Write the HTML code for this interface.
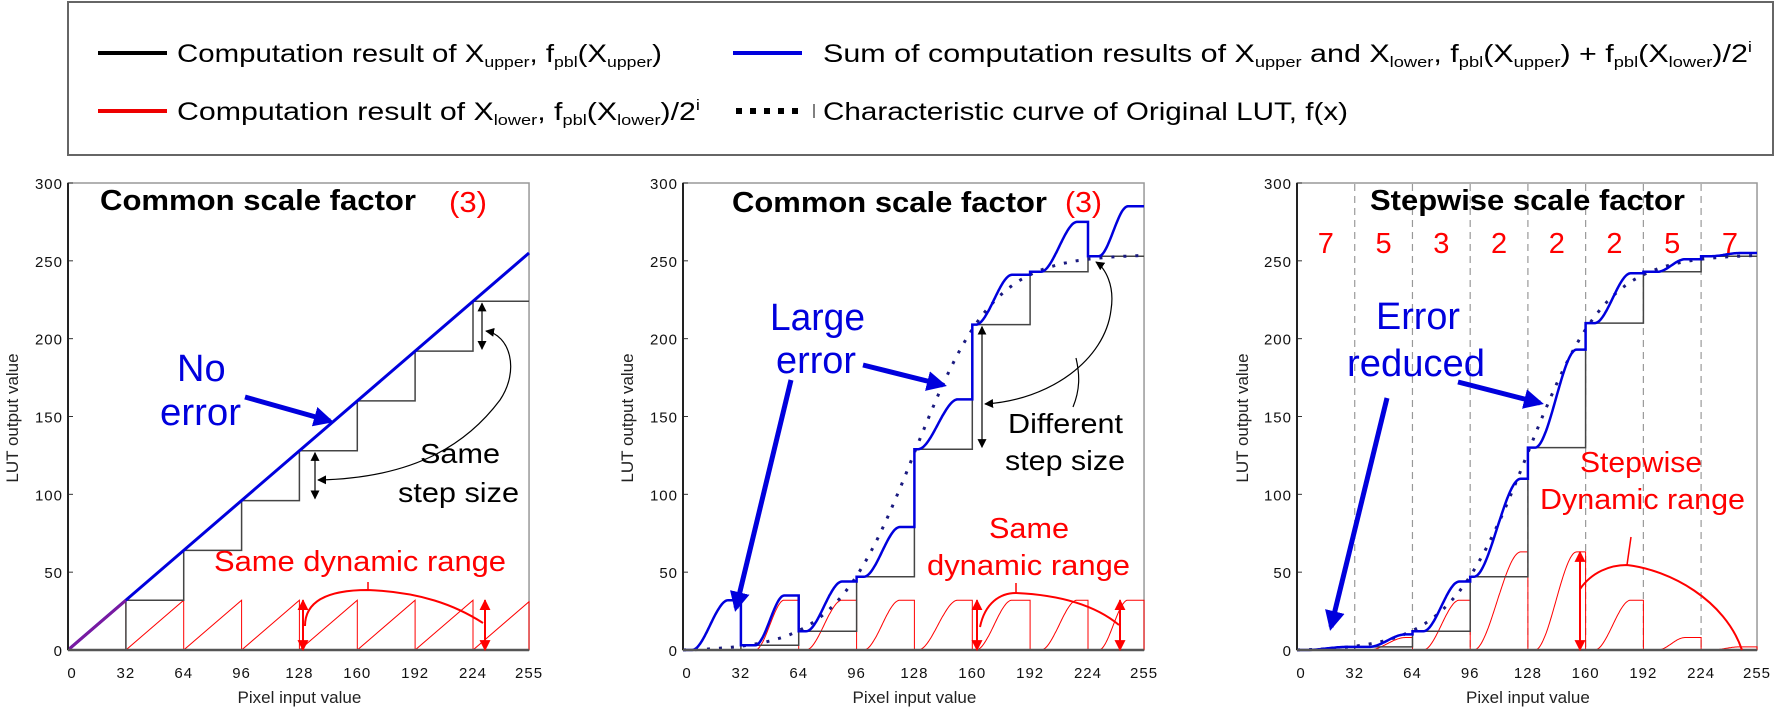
<!DOCTYPE html>
<html><head><meta charset="utf-8">
<style>
html,body{margin:0;padding:0;background:#fff;}
svg{display:block;font-family:"Liberation Sans",Arial,sans-serif;}
.tk{font-size:15px;fill:#111;letter-spacing:1px}
.lab{font-size:17px;fill:#222}
.ti{font-size:29px;font-weight:bold;fill:#000}
.bl{font-size:38px;fill:#0000dd}
.bk{font-size:28px;fill:#000}
.rd{font-size:29px;fill:#f00}
.lg{font-size:25px;fill:#000}
</style></head><body>
<svg id="s" width="1777" height="720" viewBox="0 0 1777 720" xmlns="http://www.w3.org/2000/svg">
<defs>
<marker id="ab" viewBox="0 0 10 10" refX="8" refY="5" markerWidth="4" markerHeight="4" orient="auto"><path d="M0,0 L10,5 L0,10 z" fill="#0000dd"/></marker>
<marker id="ak" viewBox="0 0 10 10" refX="9" refY="5" markerWidth="9" markerHeight="9" markerUnits="userSpaceOnUse" orient="auto-start-reverse"><path d="M0,0 L10,5 L0,10 z" fill="#000"/></marker>
<marker id="ar" viewBox="0 0 10 10" refX="9" refY="5" markerWidth="11" markerHeight="11" markerUnits="userSpaceOnUse" orient="auto-start-reverse"><path d="M0,0 L10,5 L0,10 z" fill="#f00"/></marker>
</defs>
<!-- legend -->
<rect x="68" y="2" width="1705" height="153" fill="#fff" stroke="#666" stroke-width="2"/>
<line x1="98" y1="53" x2="167" y2="53" stroke="#000" stroke-width="4"/>
<text class="lg" x="177" y="62" textLength="485" lengthAdjust="spacingAndGlyphs">Computation result of X<tspan font-size="15" dy="5">upper</tspan><tspan dy="-5">, f</tspan><tspan font-size="15" dy="5">pbl</tspan><tspan dy="-5">(X</tspan><tspan font-size="15" dy="5">upper</tspan><tspan dy="-5">)</tspan></text>
<line x1="98" y1="111" x2="167" y2="111" stroke="#e00" stroke-width="4"/>
<text class="lg" x="177" y="120" textLength="523" lengthAdjust="spacingAndGlyphs">Computation result of X<tspan font-size="15" dy="5">lower</tspan><tspan dy="-5">, f</tspan><tspan font-size="15" dy="5">pbl</tspan><tspan dy="-5">(X</tspan><tspan font-size="15" dy="5">lower</tspan><tspan dy="-5">)/2</tspan><tspan font-size="15" dy="-10">i</tspan></text>
<line x1="733" y1="53" x2="802" y2="53" stroke="#0000dd" stroke-width="4"/>
<text class="lg" x="823" y="62" textLength="929" lengthAdjust="spacingAndGlyphs">Sum of computation results of X<tspan font-size="15" dy="5">upper</tspan><tspan dy="-5"> and X</tspan><tspan font-size="15" dy="5">lower</tspan><tspan dy="-5">, f</tspan><tspan font-size="15" dy="5">pbl</tspan><tspan dy="-5">(X</tspan><tspan font-size="15" dy="5">upper</tspan><tspan dy="-5">) + f</tspan><tspan font-size="15" dy="5">pbl</tspan><tspan dy="-5">(X</tspan><tspan font-size="15" dy="5">lower</tspan><tspan dy="-5">)/2</tspan><tspan font-size="15" dy="-10">i</tspan></text>
<line x1="736" y1="111" x2="802" y2="111" stroke="#000" stroke-width="6" stroke-dasharray="6 8"/>
<line x1="814" y1="104" x2="814" y2="118" stroke="#000" stroke-width="1"/>
<text class="lg" x="823" y="120" textLength="525" lengthAdjust="spacingAndGlyphs">Characteristic curve of Original LUT, f(x)</text>
<g id="g"></g>
</svg>
<script>
const NS="http://www.w3.org/2000/svg",G=document.getElementById('g');
function el(t,a,txt){const e=document.createElementNS(NS,t);for(const k in a)e.setAttribute(k,a[k]);if(txt!==undefined)e.textContent=txt;G.appendChild(e);return e;}
const Y=v=>650-v*1.5567;
function S(t){t=Math.max(0,Math.min(1,t));return t*t*(3-2*t);}
function f(x){return 255/(1+Math.exp(-(x-128)/22))-255/(1+Math.exp(128/22));}
function frame(x0,sx,ylx){
  const X=v=>x0+v*sx;
  el('rect',{x:x0,y:183,width:255*sx,height:467,fill:'none',stroke:'#999','stroke-width':1.5});
  for(let v=0;v<=300;v+=50){el('line',{x1:x0,y1:Y(v),x2:x0+5,y2:Y(v),stroke:'#333'});el('text',{class:'tk',x:x0-5,y:Y(v)+6,'text-anchor':'end'},String(v));}
  [0,32,64,96,128,160,192,224,255].forEach(v=>{el('text',{class:'tk',x:X(v)+(v==0?4:0),y:678,'text-anchor':'middle'},String(v));});
  el('text',{class:'lab',x:x0+128*sx,y:703,'text-anchor':'middle'},'Pixel input value');
  el('text',{class:'lab',x:0,y:0,'text-anchor':'middle',transform:`translate(${ylx},418) rotate(-90)`},'LUT output value');
  return X;
}
function path(pts,X,attrs){let d='';pts.forEach((p,i)=>{d+=(i?'L':'M')+X(p[0]).toFixed(1)+','+Y(p[1]).toFixed(1);});attrs.d=d;attrs.fill='none';return el('path',attrs);}
function axes(x0,sx){el('line',{x1:x0,y1:183,x2:x0,y2:650,stroke:'#222','stroke-width':2});el('line',{x1:x0,y1:650,x2:x0+255*sx,y2:650,stroke:'#555','stroke-width':2.5});}
const segs=[[0,32],[32,64],[64,96],[96,128],[128,160],[160,192],[192,224],[224,255]];
function stepPts(up){const p=[];segs.forEach((s,i)=>{p.push([s[0],up[i]]);p.push([s[1],up[i]]);});return p;}
function lowerPts(rng,rise,up,addUp){const p=[];segs.forEach((s,i)=>{const [a,b]=rise[i];for(let x=s[0];x<=s[1];x+=0.5){p.push([x,(addUp?up[i]:0)+rng[i]*S((x-a)/(b-a))]);}});return p;}
function redSegs(rng,rise,X){segs.forEach((s,i)=>{const [a,b]=rise[i];const p=[];for(let x=s[0];x<=s[1];x+=0.5)p.push([x,rng[i]*S((x-a)/(b-a))]);p.push([s[1],0]);path(p,X,{stroke:'#f00','stroke-width':1});});}
function dotted(X){const p=[];for(let x=0;x<=255;x+=1)p.push([x,f(x)]);path(p,X,{stroke:'#1a1a80','stroke-width':3,'stroke-dasharray':'3 9'});}

/* ---------- left ---------- */
let X=frame(68,1.808,18);
{const p=[];for(let k=0;k<8;k++){const a=32*k,b=Math.min(a+32,255);p.push([a,0],[b,b-a],[b,0]);}path(p,X,{stroke:'#f00','stroke-width':1});}
path(stepPts([0,32,64,96,128,160,192,224]),X,{stroke:'#444','stroke-width':1.5});
path([[0,0],[255,255]],X,{stroke:'#0000dd','stroke-width':3});
path([[0,0],[32,32]],X,{stroke:'#7a1aa0','stroke-width':3});
axes(68,1.808);
el('text',{class:'ti',x:100,y:210,textLength:316,lengthAdjust:'spacingAndGlyphs'},'Common scale factor');
el('text',{class:'rd',x:449,y:212,textLength:38,lengthAdjust:'spacingAndGlyphs'},'(3)');
el('text',{class:'bl',x:177,y:381},'No');
el('text',{class:'bl',x:160,y:425,textLength:81,lengthAdjust:'spacingAndGlyphs'},'error');
el('line',{x1:245,y1:397,x2:330,y2:421,stroke:'#0000dd','stroke-width':5,'marker-end':'url(#ab)'});
el('text',{class:'bk',x:420,y:463,textLength:80,lengthAdjust:'spacingAndGlyphs'},'Same');
el('text',{class:'bk',x:398,y:502,textLength:121,lengthAdjust:'spacingAndGlyphs'},'step size');
el('line',{x1:315,y1:Y(128)+2,x2:315,y2:Y(96)-2,stroke:'#000','stroke-width':1.2,'marker-start':'url(#ak)','marker-end':'url(#ak)'});
el('line',{x1:482,y1:Y(224)+2,x2:482,y2:Y(192)-2,stroke:'#000','stroke-width':1.2,'marker-start':'url(#ak)','marker-end':'url(#ak)'});
el('path',{d:'M318,480 C420,478 470,440 500,400 C520,370 510,335 486,331',fill:'none',stroke:'#000','stroke-width':1.2,'marker-start':'url(#ak)','marker-end':'url(#ak)'});
el('text',{class:'rd',x:214,y:571,textLength:292,lengthAdjust:'spacingAndGlyphs'},'Same dynamic range');
el('line',{x1:303,y1:Y(32),x2:303,y2:Y(0),stroke:'#f00','stroke-width':2,'marker-start':'url(#ar)','marker-end':'url(#ar)'});
el('line',{x1:485,y1:Y(32),x2:485,y2:Y(0),stroke:'#f00','stroke-width':2,'marker-start':'url(#ar)','marker-end':'url(#ar)'});
el('path',{d:'M305,626 C305,600 330,590 368,590 C420,592 455,605 483,623',fill:'none',stroke:'#f00','stroke-width':2});
el('line',{x1:368,y1:590,x2:368,y2:582,stroke:'#f00','stroke-width':1.5});

/* ---------- middle ---------- */
X=frame(683,1.808,633);
const upM=[0,3,12,47,129,209,243,253];
const riseM=[[5,25],[40,56],[68,88],[100,120],[130,152],[162,182],[198,218],[230,246]];
const r32=[32,32,32,32,32,32,32,32];
redSegs(r32,riseM,X);
path(stepPts(upM),X,{stroke:'#444','stroke-width':1.5});
dotted(X);
path(lowerPts(r32,riseM,upM,true),X,{stroke:'#0000dd','stroke-width':2.5});
axes(683,1.808);
el('text',{class:'ti',x:732,y:212,textLength:315,lengthAdjust:'spacingAndGlyphs'},'Common scale factor');
el('text',{class:'rd',x:1065,y:212,textLength:37,lengthAdjust:'spacingAndGlyphs'},'(3)');
el('text',{class:'bl',x:770,y:330,textLength:95,lengthAdjust:'spacingAndGlyphs'},'Large');
el('text',{class:'bl',x:776,y:373,textLength:80,lengthAdjust:'spacingAndGlyphs'},'error');
el('line',{x1:863,y1:365,x2:943,y2:385,stroke:'#0000dd','stroke-width':5,'marker-end':'url(#ab)'});
el('line',{x1:791,y1:380,x2:736,y2:608,stroke:'#0000dd','stroke-width':5,'marker-end':'url(#ab)'});
el('text',{class:'bk',x:1008,y:433,textLength:115,lengthAdjust:'spacingAndGlyphs'},'Different');
el('text',{class:'bk',x:1005,y:470,textLength:120,lengthAdjust:'spacingAndGlyphs'},'step size');
el('line',{x1:982,y1:Y(209)+2,x2:982,y2:Y(129)-2,stroke:'#000','stroke-width':1.2,'marker-start':'url(#ak)','marker-end':'url(#ak)'});
el('path',{d:'M985,404 C1050,400 1105,360 1111,310 C1115,285 1105,268 1096,262',fill:'none',stroke:'#000','stroke-width':1.2,'marker-start':'url(#ak)','marker-end':'url(#ak)'});
el('path',{d:'M1073,407 C1080,390 1080,375 1076,358',fill:'none',stroke:'#000','stroke-width':1.2});
el('text',{class:'rd',x:989,y:538,textLength:80,lengthAdjust:'spacingAndGlyphs'},'Same');
el('text',{class:'rd',x:927,y:575,textLength:203,lengthAdjust:'spacingAndGlyphs'},'dynamic range');
el('line',{x1:977,y1:Y(32),x2:977,y2:Y(0),stroke:'#f00','stroke-width':2,'marker-start':'url(#ar)','marker-end':'url(#ar)'});
el('line',{x1:1120,y1:Y(32),x2:1120,y2:Y(0),stroke:'#f00','stroke-width':2,'marker-start':'url(#ar)','marker-end':'url(#ar)'});
el('path',{d:'M980,627 C985,603 1000,593 1016,593 C1060,595 1095,605 1119,625',fill:'none',stroke:'#f00','stroke-width':2});
el('line',{x1:1016,y1:593,x2:1016,y2:583,stroke:'#f00','stroke-width':1.5});

/* ---------- right ---------- */
X=frame(1297,1.804,1248);
for(let k=1;k<8;k++)el('line',{x1:X(32*k),y1:184,x2:X(32*k),y2:649,stroke:'#999','stroke-width':1.2,'stroke-dasharray':'7 5'});
const upR=[0,2,12,47,130,210,243,253];
const rngR=[2,8,32,63,63,32,8,2];
const riseR=[[5,28],[40,60],[70,90],[98,124],[132,155],[165,185],[200,215],[230,245]];
redSegs(rngR,riseR,X);
path(stepPts(upR),X,{stroke:'#444','stroke-width':1.5});
dotted(X);
path(lowerPts(rngR,riseR,upR,true),X,{stroke:'#0000dd','stroke-width':2.5});
axes(1297,1.804);
el('text',{class:'ti',x:1370,y:210,textLength:315,lengthAdjust:'spacingAndGlyphs'},'Stepwise scale factor');
['7','5','3','2','2','2','5','7'].forEach((n,i)=>el('text',{class:'rd','font-size':'34',x:X(32*i+16),y:253,'text-anchor':'middle'},n));
el('text',{class:'bl',x:1376,y:329,textLength:84,lengthAdjust:'spacingAndGlyphs'},'Error');
el('text',{class:'bl',x:1347,y:376,textLength:138,lengthAdjust:'spacingAndGlyphs'},'reduced');
el('line',{x1:1458,y1:382,x2:1540,y2:403,stroke:'#0000dd','stroke-width':5,'marker-end':'url(#ab)'});
el('line',{x1:1387,y1:398,x2:1331,y2:627,stroke:'#0000dd','stroke-width':5,'marker-end':'url(#ab)'});
el('text',{class:'rd',x:1580,y:472,textLength:122,lengthAdjust:'spacingAndGlyphs'},'Stepwise');
el('text',{class:'rd',x:1540,y:509,textLength:205,lengthAdjust:'spacingAndGlyphs'},'Dynamic range');
el('line',{x1:1580,y1:Y(63),x2:1580,y2:Y(0),stroke:'#f00','stroke-width':2,'marker-start':'url(#ar)','marker-end':'url(#ar)'});
el('path',{d:'M1580,589 C1592,572 1610,565 1627,565 C1670,570 1725,600 1742,650',fill:'none',stroke:'#f00','stroke-width':2});
el('line',{x1:1627,y1:565,x2:1631,y2:537,stroke:'#f00','stroke-width':1.5});
</script>
</body></html>
